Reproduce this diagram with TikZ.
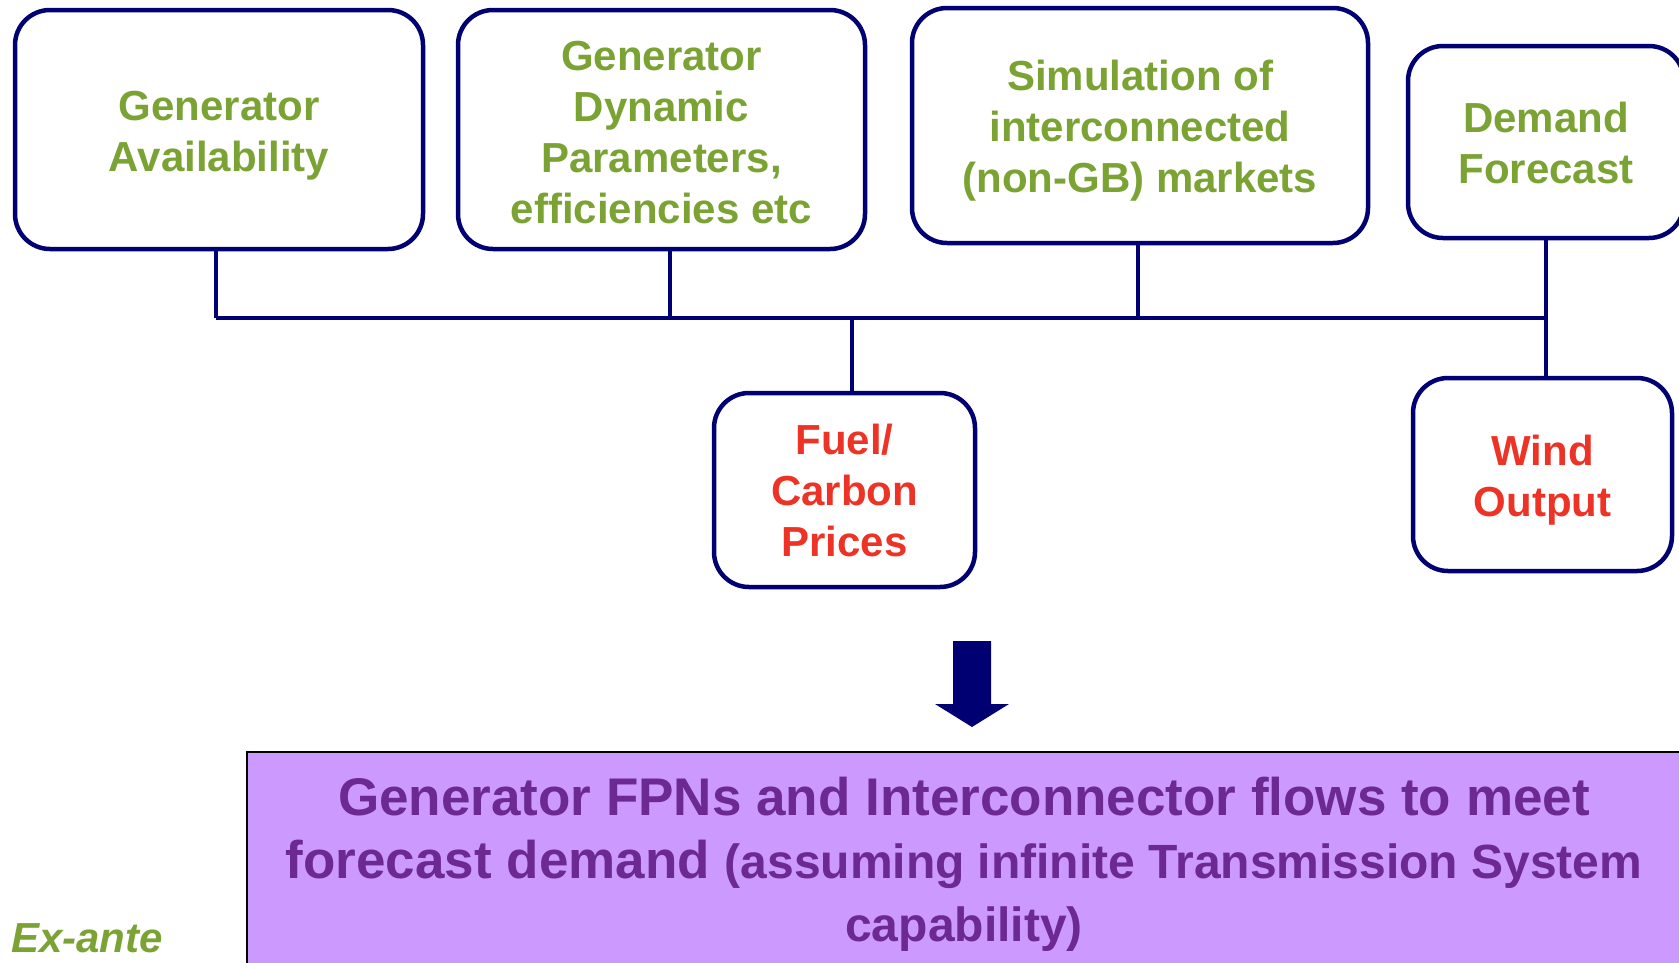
\documentclass[tikz,border=0pt]{standalone}
\usepackage{fontspec}
\setmainfont{Liberation Sans}
\definecolor{navyline}{RGB}{0,0,115}
\definecolor{greentxt}{RGB}{122,163,52}
\definecolor{redtxt}{RGB}{236,51,38}
\definecolor{purptxt}{RGB}{107,41,145}
\definecolor{purpfill}{RGB}{204,153,255}
\newcommand{\myup}[1]{\rule{0pt}{#1}}
\begin{document}
\begin{tikzpicture}[x=1pt,y=-1pt,
  inbox/.style={draw=navyline, line width=4.5pt, rounded corners=35pt, fill=white,
    align=center, inner sep=0pt, font=\fontsize{42}{51}\selectfont\bfseries},
  greenbox/.style={inbox, text=greentxt},
  redbox/.style={inbox, text=redtxt},
  busline/.style={draw=navyline, line width=4pt},
  restxt/.style={inner sep=0pt, text=purptxt, anchor=base, font=\fontsize{53}{65}\selectfont\bfseries},
  ressmall/.style={restxt, font=\fontsize{48}{60}\selectfont\bfseries}]
\useasboundingbox (0,0) rectangle (1679,962);

% input boxes
\node[greenbox, minimum width=408pt, minimum height=239pt] (ga) at (219,129.5) {\myup{41pt}Generator\\Availability};
\node[greenbox, minimum width=407pt, minimum height=239pt] (gd) at (661.5,129.5) {\myup{35pt}Generator\\Dynamic\\Parameters,\\efficiencies etc};
\node[greenbox, minimum width=456pt, minimum height=235pt] (sim) at (1140,125.5) {\myup{41pt}Simulation of\\interconnected\\(non-GB) markets};
\node[greenbox, minimum width=276pt, minimum height=192pt] (dem) at (1546,142) {\myup{33pt}Demand\\Forecast};
\node[redbox, minimum width=261pt, minimum height=194pt] (fuel) at (844.5,490) {Fuel/\\Carbon\\Prices};
\node[redbox, minimum width=259pt, minimum height=193pt] (wind) at (1542.5,474.5) {\myup{41pt}Wind\\Output};

% bus
\coordinate (busL) at (216,318);
\coordinate (busR) at (1546,318);
\draw[busline] (busL) -- (busR);
\draw[busline] ([xshift=-3pt]ga.south) -- ([xshift=-3pt]ga.south |- busL);
\draw[busline] ([xshift=8pt]gd.south) -- ([xshift=8pt]gd.south |- busL);
\draw[busline] ([xshift=-2pt]sim.south) -- ([xshift=-2pt]sim.south |- busL);
\draw[busline] (dem.south) -- (dem.south |- wind.north);
\draw[busline] ([xshift=7.5pt]fuel.north |- busL) -- ([xshift=7.5pt]fuel.north);

% block arrow
\fill[navyline] (953,641) -- (991,641) -- (991,704) -- (1009,704) -- (972,727) -- (935,704) -- (953,704) -- cycle;

% result box
\node[draw=black, line width=2pt, fill=purpfill, minimum width=1440pt, minimum height=240pt,
  anchor=north west, inner sep=0pt] (res) at (246,751) {};
\node[restxt] (r1) at (964,815) {Generator FPNs and Interconnector flows to meet};
\node[restxt] (r2) at (964,878) {forecast demand {\fontsize{48}{60}\selectfont(assuming infinite Transmission System}};
\node[ressmall] (r3) at (964,941) {capability)};

% label
\node[anchor=base west, inner sep=0pt, text=greentxt, font=\fontsize{42}{50}\selectfont\bfseries\itshape] (ex) at (11,952) {Ex-ante};
\end{tikzpicture}
\end{document}
